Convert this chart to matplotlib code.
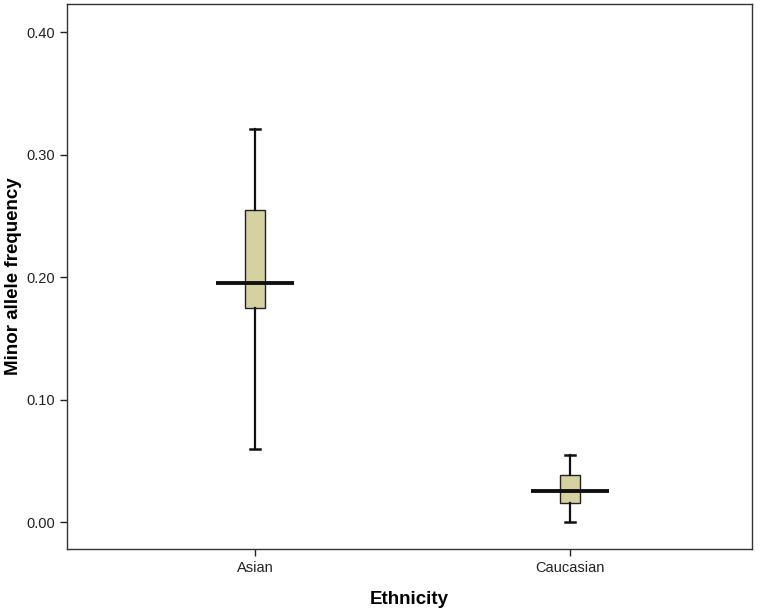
import matplotlib
matplotlib.use("Agg")
import matplotlib.pyplot as plt

categories = ["Asian", "Caucasian"]
whislo = [0.060, 0.000]
q1 = [0.175, 0.0155]
med = [0.195, 0.025]
q3 = [0.255, 0.038]
whishi = [0.321, 0.055]
yticks = [0.00, 0.10, 0.20, 0.30, 0.40]

plt.rcParams['font.family'] = ['Liberation Sans', 'DejaVu Sans']

fig = plt.figure(figsize=(7.68, 6.14), dpi=100)
ax = fig.add_axes([0.0872, 0.1059, 0.8919, 0.8876])

stats = []
for i, c in enumerate(categories):
    stats.append(dict(label=c, whislo=whislo[i], q1=q1[i], med=med[i],
                      q3=q3[i], whishi=whishi[i], fliers=[]))

positions = [1, 2]
ax.bxp(stats, positions=positions, widths=0.064, patch_artist=True,
       showfliers=False,
       boxprops=dict(facecolor='#d6d1a0', edgecolor='#222222', linewidth=1.0),
       whiskerprops=dict(color='#111111', linewidth=1.6),
       capprops=dict(color='#111111', linewidth=1.8),
       medianprops=dict(linewidth=0))
# wide median lines
for p, m in zip(positions, med):
    ax.plot([p - 0.125, p + 0.125], [m, m], color='#111111', linewidth=2.8,
            solid_capstyle='butt', zorder=5)

ax.set_xlim(0.403, 2.578)
ax.set_ylim(-0.022, 0.423)
ax.set_yticks(yticks)
ax.set_yticklabels([f"{v:.2f}" for v in yticks])
ax.set_xticks(positions)
ax.set_xticklabels(categories)
ax.tick_params(axis='both', labelsize=10.5, length=5, width=1.0, colors='#222222')
ax.tick_params(axis='both', labelcolor='#222222')
for s in ax.spines.values():
    s.set_linewidth(1.0)
    s.set_color('#333333')

ax.set_ylabel("Minor allele frequency", fontsize=13.5, fontweight='bold',
              va='center')
ax.yaxis.set_label_coords(-0.078, 0.50)
ax.set_xlabel("Ethnicity", fontsize=13.5, fontweight='bold', labelpad=12)

fig.savefig("out.png", dpi=100)
